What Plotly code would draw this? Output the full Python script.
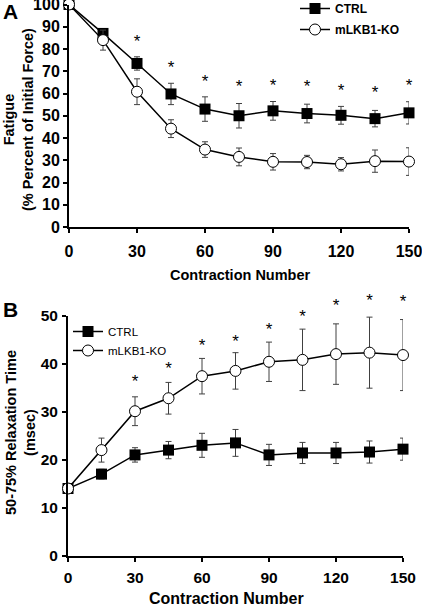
import plotly.graph_objects as go

contractions = [0, 15, 30, 45, 60, 75, 90, 105, 120, 135, 150]

# Panel A: fatigue (% of initial force)
fatigue_ctrl = [100, 87, 73.5, 59.8, 53, 50, 52.2, 51, 50.2, 48.7, 51.3]
fatigue_ctrl_err = [0.8, 2, 3, 4.8, 5.5, 5.5, 4.2, 4.2, 4, 3.7, 5]
fatigue_ko = [100, 84, 60.8, 44.2, 34.8, 31.5, 29.3, 29.2, 28.2, 29.6, 29.4]
fatigue_ko_err = [0.8, 4.5, 5.8, 4, 3.5, 4, 3.7, 3, 3, 5, 6.2]
fatigue_sig_x = [30, 45, 60, 75, 90, 105, 120, 135, 150]
fatigue_sig_y = [82.7, 71, 64.7, 62.5, 63, 62.5, 60.7, 59.8, 63]

# Panel B: 50-75% relaxation time (msec)
relax_ctrl = [14, 17, 21, 22, 23, 23.5, 21, 21.4, 21.4, 21.6, 22.2]
relax_ctrl_err = [1, 1, 1.5, 1.8, 2.5, 2.8, 2.2, 2.2, 2.2, 2.3, 2.3]
relax_ko = [14, 22, 30.1, 32.8, 37.4, 38.5, 40.4, 40.8, 42.0, 42.3, 41.8]
relax_ko_err = [0.8, 2.5, 3, 3.3, 3.7, 3.8, 4.1, 6.4, 6.3, 7.4, 7.4]
relax_sig_x = [30, 45, 60, 75, 90, 105, 120, 135, 150]
relax_sig_y = [36.0, 38.7, 43.6, 44.3, 46.9, 49.6, 51.9, 53.0, 52.6]

x_ticks = [0, 30, 60, 90, 120, 150]
ya_ticks = list(range(0, 101, 10))
yb_ticks = [0, 10, 20, 30, 40, 50]

W, H = 422, 604
FONT = "Liberation Sans, Arial, sans-serif"

fig = go.Figure()

def err(arr):
    return dict(type="data", array=arr, visible=True, color="#404040",
                thickness=1, width=3)

line = dict(color="black", width=1.5)

def add_pair(ctrl, ctrl_err, ko, ko_err, xa, ya, leg):
    fig.add_trace(go.Scatter(x=contractions, y=ctrl, error_y=err(ctrl_err),
                             mode="lines+markers", name="CTRL", line=line,
                             marker=dict(symbol="square", size=11, color="black"),
                             xaxis=xa, yaxis=ya, legend=leg, legendgroup=leg + "c",
                             cliponaxis=False))
    fig.add_trace(go.Scatter(x=contractions, y=ko, error_y=err(ko_err),
                             mode="lines+markers", name="mLKB1-KO", line=line,
                             marker=dict(symbol="circle", size=11, color="white",
                                         line=dict(color="black", width=1)),
                             xaxis=xa, yaxis=ya, legend=leg, legendgroup=leg + "k",
                             cliponaxis=False))

add_pair(fatigue_ctrl, fatigue_ctrl_err, fatigue_ko, fatigue_ko_err, "x", "y", "legend")
add_pair(relax_ctrl, relax_ctrl_err, relax_ko, relax_ko_err, "x2", "y2", "legend2")

# significance asterisks (panel B uses a taller hidden axis with the same scale,
# so asterisks above 50 msec are still drawn)
for sx, sy, xa, ya in [(fatigue_sig_x, fatigue_sig_y, "x", "y"),
                       (relax_sig_x, relax_sig_y, "x2", "y3")]:
    fig.add_trace(go.Scatter(x=sx, y=sy, mode="text", text=["*"] * len(sx),
                             textposition="middle center",
                             textfont=dict(family=FONT, size=17, color="black"),
                             xaxis=xa, yaxis=ya, showlegend=False, cliponaxis=False,
                             hoverinfo="skip"))

annotations = []
# panel letters
annotations.append(dict(x=1/W, y=1 + 2/H, xref="paper", yref="paper", text="<b>A</b>",
                        showarrow=False, xanchor="left", yanchor="top",
                        font=dict(family=FONT, size=21, color="black")))
annotations.append(dict(x=1/W, y=1 - 296/H, xref="paper", yref="paper", text="<b>B</b>",
                        showarrow=False, xanchor="left", yanchor="top",
                        font=dict(family=FONT, size=21, color="black")))

# axis titles
def title(x, y, text, size, angle=0):
    annotations.append(dict(x=x/W, y=1 - y/H, xref="paper", yref="paper",
                            text=text, textangle=angle, xanchor="center", yanchor="middle",
                            showarrow=False, font=dict(family=FONT, size=size, color="black")))

title(18, 120, "<b>Fatigue<br>(% Percent of Initial Force)</b>", 14.5, -90)
title(240, 275, "<b>Contraction Number</b>", 14.5)
title(20, 433, "<b>50-75% Relaxation Time<br>(msec)</b>", 14.5, -90)
title(227, 598, "<b>Contraction Number</b>", 16)

def axis(size, standoff=0, **kw):
    d = dict(showline=True, linecolor="black", linewidth=2, ticks="outside",
             ticklen=4, tickwidth=1.5, tickcolor="black", showgrid=False,
             zeroline=False, automargin=False, ticklabeloverflow="allow",
             ticklabelstandoff=standoff,
             tickfont=dict(family=FONT, size=size, color="black", weight="bold"))
    d.update(kw)
    return d

fig.update_layout(
    template="none",
    width=W, height=H, margin=dict(l=0, r=0, t=0, b=0, autoexpand=False),
    plot_bgcolor="rgba(0,0,0,0)", paper_bgcolor="white",
    showlegend=True,
    xaxis=axis(16, 5, domain=[69/W, 409/W], range=[0, 150], tickvals=x_ticks, anchor="y"),
    yaxis=axis(16, 0, domain=[1 - 227/H, 1 - 4.5/H], range=[0, 100], tickvals=ya_ticks, anchor="x"),
    xaxis2=axis(15.5, 3, domain=[68/W, 403/W], range=[0, 150], tickvals=x_ticks, anchor="y2"),
    yaxis2=axis(15.5, 1, domain=[1 - 555.7/H, 1 - 315.7/H], range=[0, 50], tickvals=yb_ticks, anchor="x2"),
    yaxis3=dict(domain=[1 - 555.7/H, 1 - 291.7/H], range=[0, 55], anchor="x2",
                visible=False, showgrid=False, zeroline=False, automargin=False),
    legend=dict(x=295/W, y=1 + 6/H, xanchor="left", yanchor="top", bgcolor="rgba(0,0,0,0)",
                font=dict(family=FONT, size=12, color="black", weight="bold"),
                tracegroupgap=2, itemwidth=30),
    legend2=dict(x=68/W, y=1 - 317/H, xanchor="left", yanchor="top", bgcolor="rgba(0,0,0,0)",
                 font=dict(family=FONT, size=11.5, color="black"),
                 tracegroupgap=0, itemwidth=30),
    annotations=annotations,
)

fig.write_html("out.html", post_script="document.body.style.margin='0px';",
               config={"displayModeBar": False})
